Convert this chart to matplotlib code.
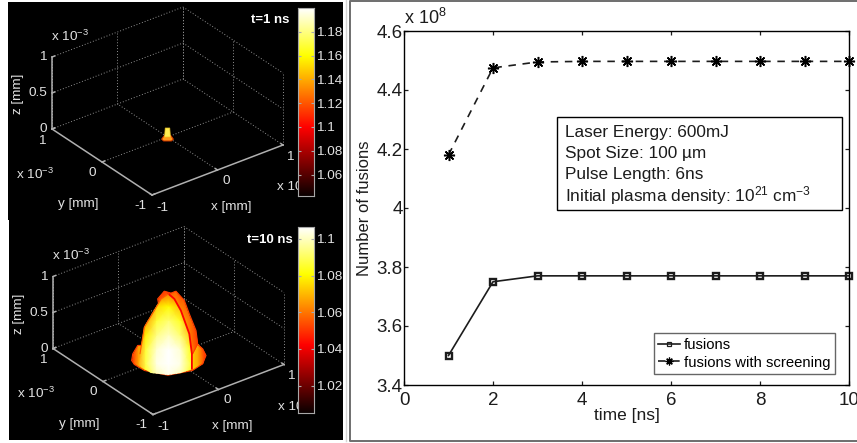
import numpy as np
import matplotlib
matplotlib.use("Agg")
import matplotlib.pyplot as plt
from matplotlib.patches import Polygon, Rectangle
from matplotlib.colors import Normalize

plt.rcParams['font.family'] = ['Liberation Sans', 'DejaVu Sans']
plt.rcParams['mathtext.default'] = 'regular'
W, H = 857, 443

# ---------- line chart data ----------
time_ns = [1, 2, 3, 4, 5, 6, 7, 8, 9, 10]
fusions = [3.50, 3.75, 3.77, 3.77, 3.77, 3.77, 3.77, 3.77, 3.77, 3.77]
fusions_screening = [4.18, 4.475, 4.495, 4.497, 4.497, 4.497, 4.497, 4.497, 4.497, 4.497]
x_ticks = [0, 2, 4, 6, 8, 10]
y_ticks = [3.4, 3.6, 3.8, 4.0, 4.2, 4.4, 4.6]
y_tick_labels = ['3.4', '3.6', '3.8', '4', '4.2', '4.4', '4.6']
note_lines = ['Laser Energy: 600mJ', 'Spot Size: 100 µm', 'Pulse Length: 6ns',
              'Initial plasma density: $10^{21}$ cm$^{-3}$']

# ---------- 3D panel data (axes units of 1e-3 mm) ----------
grid_ticks = [-1, 0, 1]
z_ticks = [0, 0.5, 1]
z_tick_labels = ['0', '0.5', '1']
cbar1_ticks = [1.06, 1.08, 1.10, 1.12, 1.14, 1.16, 1.18]
cbar1_labels = ['1.06', '1.08', '1.1', '1.12', '1.14', '1.16', '1.18']
cbar1_range = (1.042, 1.2)
cbar2_ticks = [1.02, 1.04, 1.06, 1.08, 1.10]
cbar2_labels = ['1.02', '1.04', '1.06', '1.08', '1.1']
cbar2_range = (1.005, 1.1065)

# plume outlines: screen-horizontal offset (axes units) and height z
base_r = [-0.567, -0.55, -0.474, 0.449, 0.526, 0.577, 0.526, 0.37, -0.01, -0.37, -0.526]
base_z = [-0.055, 0.037, 0.153, 0.167, 0.106, 0.014, -0.10, -0.194, -0.26, -0.194, -0.11]
back_r = [-0.167, -0.064, 0.038, 0.115, 0.244, 0.32, 0.423, 0.449, 0.37, 0.0]
back_z = [0.80, 0.907, 0.88, 0.907, 0.778, 0.593, 0.361, 0.176, 0.037, 0.0]
front_r = [-0.449, -0.438, -0.372, -0.218, -0.115, 0.0, 0.09, 0.19, 0.32, 0.36, 0.36, 0.19, -0.01, -0.27, -0.42]
front_z = [-0.10, 0.04, 0.407, 0.639, 0.80, 0.87, 0.80, 0.639, 0.315, 0.037, -0.17, -0.23, -0.25, -0.23, -0.148]
# value sampled on coarse grids (rows: z, columns: offset)
field_r = [-0.50, -0.35, -0.18, 0.0, 0.18, 0.35, 0.50]
field_z = [-0.30, -0.10, 0.10, 0.30, 0.50, 0.70, 0.90]
field_v = [[1.062, 1.084, 1.098, 1.104, 1.098, 1.084, 1.062],
           [1.064, 1.088, 1.104, 1.1065, 1.104, 1.086, 1.064],
           [1.060, 1.086, 1.102, 1.1065, 1.102, 1.082, 1.060],
           [1.050, 1.078, 1.094, 1.100, 1.092, 1.072, 1.050],
           [1.038, 1.066, 1.086, 1.092, 1.084, 1.058, 1.038],
           [1.026, 1.050, 1.074, 1.080, 1.070, 1.044, 1.026],
           [1.016, 1.032, 1.052, 1.058, 1.048, 1.030, 1.016]]
ring_field_r = [-0.60, -0.46, -0.30, 0.30, 0.46, 0.60]
ring_field_z = [-0.28, 0.18]
ring_field_v = [[1.044, 1.068, 1.078, 1.078, 1.068, 1.044],
                [1.044, 1.066, 1.076, 1.076, 1.066, 1.044]]
back_field_r = [-0.20, 0.10, 0.25, 0.46]
back_field_z = [0.0, 0.50, 0.93]
back_field_v = [[1.070, 1.072, 1.070, 1.052],
                [1.066, 1.070, 1.066, 1.048],
                [1.046, 1.056, 1.050, 1.040]]
spot1_base_r = [-0.09, -0.05, 0.05, 0.09, 0.06, -0.06]
spot1_base_z = [-0.03, 0.02, 0.02, -0.03, -0.055, -0.055]
spot1_col_r = [-0.045, -0.035, 0.035, 0.045]
spot1_col_z = [0.0, 0.125, 0.125, 0.0]

fig = plt.figure(figsize=(W / 100, H / 100), dpi=100, facecolor='white')


def ax_px(l, t, r, b, **kw):
    return fig.add_axes([l / W, 1 - b / H, (r - l) / W, (b - t) / H], **kw)


# frame lines and black panels, 3D panels live in this pixel-scaled axes
bg = ax_px(0, 0, W, H)
bg.set_xlim(0, W); bg.set_ylim(H, 0); bg.axis('off')
GREY = '#6e6e6e'
bg.plot([857, 350.5, 350.5, 857], [1, 1, 440.5, 440.5], color=GREY, lw=1.4)
bg.add_patch(Rectangle((8, 2), 335, 218, fc='black', ec='none'))
bg.add_patch(Rectangle((9, 220), 334, 220, fc='black', ec='none'))
bg.plot([346.5, 346.5], [0, 441], color='#d5d5d5', lw=1)

TXT = '#e2e2e2'
FS = 9.7


def panel(dx, oy, title, ticks, labels, rng, cb_top, cb_bot, dome):
    ax = bg
    ox, oyc = 167.5 + dx, oy + 137

    def P(x, y, z):
        return (ox + 65.5 * np.asarray(x) - 50 * np.asarray(y),
                oyc - 25 * np.asarray(x) - 33 * np.asarray(y) - 72 * np.asarray(z))

    def S(r, z):
        return ox + 65 * np.asarray(r), oyc - 72 * np.asarray(z)

    def L3(a, b, **kw):
        pa, pb = P(*a), P(*b)
        ax.plot([pa[0], pb[0]], [pa[1], pb[1]], **kw)

    dot = dict(color='#909090', lw=0.7, ls=(0, (1, 2)))
    for t in grid_ticks:
        if t != -1:
            L3((t, -1, 0), (t, 1, 0), **dot)
            L3((-1, t, 0), (1, t, 0), **dot)
        L3((t, 1, 0), (t, 1, 1), **dot)
        L3((1, t, 0), (1, t, 1), **dot)
    for z in z_ticks[1:]:
        L3((-1, 1, z), (1, 1, z), **dot)
        L3((1, 1, z), (1, -1, z), **dot)

    solid = dict(color='#b0b0b0', lw=1.1)
    L3((-1, 1, 0), (-1, -1, 0), **solid)
    L3((-1, -1, 0), (1, -1, 0), **solid)
    L3((-1, 1, 0), (-1, 1, 1), **solid)
    for t in grid_ticks:
        L3((-1, t, 0), (-0.96, t, 0), **solid)
        L3((t, -1, 0), (t, -0.96, 0), **solid)
    for z in z_ticks:
        L3((-1, 1, z), (-0.96, 1, z), **solid)

    for z, s in zip(z_ticks, z_tick_labels):
        px, py = P(-1, 1, z)
        ax.text(px - 5, py, s, color=TXT, fontsize=FS, ha='right', va='center')
    y_off = {-1: (-12, 11), 0: (-10, 10.5), 1: (-10, 11.5)}
    x_off = {-1: (10, 12.5), 0: (8.5, 10.5), 1: (7, 11.5)}
    for t in grid_ticks:
        px, py = P(-1, t, 0)
        ax.text(px + y_off[t][0], py + y_off[t][1], str(t), color=TXT, fontsize=FS, ha='center', va='center')
        px, py = P(t, -1, 0)
        ax.text(px + x_off[t][0], py + x_off[t][1], str(t), color=TXT, fontsize=FS, ha='center', va='center')
    ax.text(51 + dx, oy + 36, r'x $10^{-3}$', color=TXT, fontsize=FS, ha='left', va='center')
    ax.text(16 + dx, oy + 174, r'x $10^{-3}$', color=TXT, fontsize=FS, ha='left', va='center')
    ax.text(277 + dx, oy + 187, 'x 10', color=TXT, fontsize=FS, ha='left', va='center')
    ax.text(78 + dx, oy + 204, 'y [mm]', color=TXT, fontsize=FS, ha='center', va='center')
    ax.text(231 + dx, oy + 207, 'x [mm]', color=TXT, fontsize=FS, ha='center', va='center')
    ax.text(18 + dx, oy + 94, 'z [mm]', color=TXT, fontsize=FS, ha='center', va='center', rotation=90)
    ax.text(270, oy + 20, title, color='white', fontsize=9.5, fontweight='bold', ha='center', va='center')

    norm = Normalize(*rng)
    cmap = plt.get_cmap('hot')

    def shaded(rs, zs, vals, clip, z):
        gx, gz = S(rs, zs)
        GX, GZ = np.meshgrid(gx, gz)
        m = ax.pcolormesh(GX, GZ, np.array(vals), cmap=cmap, norm=norm, shading='gouraud', zorder=z)
        m.set_clip_path(clip)

    if dome:
        edge = cmap(0.46)
        ring = Polygon(np.column_stack(S(base_r, base_z)), closed=True, fc='none', ec=edge, lw=0.8, zorder=3.5)
        ax.add_patch(ring)
        shaded(ring_field_r, ring_field_z, ring_field_v, ring, 3)
        back = Polygon(np.column_stack(S(back_r, back_z)), closed=True, fc='none', ec=edge, lw=0.8, zorder=4.5)
        ax.add_patch(back)
        shaded(back_field_r, back_field_z, back_field_v, back, 4)
        front = Polygon(np.column_stack(S(front_r, front_z)), closed=True, fc='none', ec='none', zorder=6)
        ax.add_patch(front)
        shaded(field_r, field_z, field_v, front, 5)
        # dark seam along the right flank of the front shell, thin glow on the left
        sx, sz = S(front_r[5:11], front_z[5:11])
        ax.plot(sx, sz, color=cmap(0.36), lw=1.3, zorder=6)
        lx, lz = S(front_r[1:6], front_z[1:6])
        ax.plot(lx, lz, color=cmap(0.5), lw=0.8, zorder=6)
    else:
        ax.add_patch(Polygon(np.column_stack(S(spot1_base_r, spot1_base_z)), closed=True,
                             fc='#ff9a1a', ec='#d83a00', lw=0.7, zorder=5))
        ax.add_patch(Polygon(np.column_stack(S(spot1_col_r, spot1_col_z)), closed=True,
                             fc='#ffee50', ec='#e8c020', lw=0.5, zorder=6))
    ax.set_xlim(0, W); ax.set_ylim(H, 0)

    # colour bar
    cax = ax_px(298, cb_top, 314, cb_bot)
    grad = np.linspace(rng[0], rng[1], 256).reshape(-1, 1)
    cax.imshow(grad, aspect='auto', origin='lower', cmap=cmap, norm=norm, extent=(0, 1, rng[0], rng[1]))
    cax.set_xticks([])
    cax.yaxis.tick_right()
    cax.set_yticks(ticks)
    cax.set_yticklabels(labels, color=TXT, fontsize=FS)
    cax.tick_params(axis='y', direction='in', length=2, color='#a8a8a8', pad=1.5, left=True, right=True)
    for s in cax.spines.values():
        s.set_color('#a8a8a8'); s.set_linewidth(0.8)


panel(0, 0, 't=1 ns', cbar1_ticks, cbar1_labels, cbar1_range, 8, 196, False)
panel(1, 219.5, 't=10 ns', cbar2_ticks, cbar2_labels, cbar2_range, 227, 413, True)

# line chart
ax = ax_px(404, 31, 849, 385)
ax.set_xlim(0, 10); ax.set_ylim(3.4, 4.6)
INK = '#1c1c1c'
l1, = ax.plot(time_ns, fusions, '-', color=INK, lw=1.2, marker='s', ms=4.8, mfc='none', mew=1.7,
              clip_on=False, label='fusions')
l2, = ax.plot(time_ns, fusions_screening, color=INK, lw=1.2, ls=(0, (4.5, 4)), marker=(8, 2, 0), ms=8,
              mfc='black', mec='black', mew=1.1, clip_on=False, label='fusions with screening')
ax.set_xticks(x_ticks); ax.set_yticks(y_ticks); ax.set_yticklabels(y_tick_labels)
ax.tick_params(direction='in', length=3, width=0.9, top=True, right=True, labelsize=13.5, colors=INK)
ax.tick_params(axis='x', pad=5)
ax.tick_params(axis='y', pad=1)
ax.set_xlabel('time [ns]', fontsize=12.5, labelpad=-1, color=INK)
ax.set_ylabel('Number of fusions', fontsize=12, labelpad=3, color=INK)
for s in ax.spines.values():
    s.set_linewidth(1.0)
ax.text(0.0, 1.008, r'x $10^{8}$', transform=ax.transAxes, fontsize=13, ha='left', va='bottom', color=INK)
leg = ax.legend(handles=[l1, l2], loc='lower right', bbox_to_anchor=(0.9685, 0.031), borderaxespad=0, fontsize=10.7,
                fancybox=False, framealpha=1, edgecolor='#666666', handlelength=1.5, handletextpad=0.25,
                borderpad=0.3, labelspacing=0.25, markerscale=0.7)
for hl in leg.get_lines():
    hl.set_markeredgewidth(0.9)


def fx(px):
    return (px - 404) / 445


def fy(py):
    return (385 - py) / 354


ax.add_patch(Rectangle((fx(557), fy(210)), fx(842) - fx(557), fy(117) - fy(210), transform=ax.transAxes,
                       fc='white', ec='black', lw=1, zorder=5))
for line, py in zip(note_lines, [132.5, 153.5, 174.5, 195.5]):
    ax.text(fx(565), fy(py), line, transform=ax.transAxes, fontsize=12.4, va='center', ha='left',
            color=INK, zorder=6)

fig.savefig('out.png', dpi=100, facecolor='white')
